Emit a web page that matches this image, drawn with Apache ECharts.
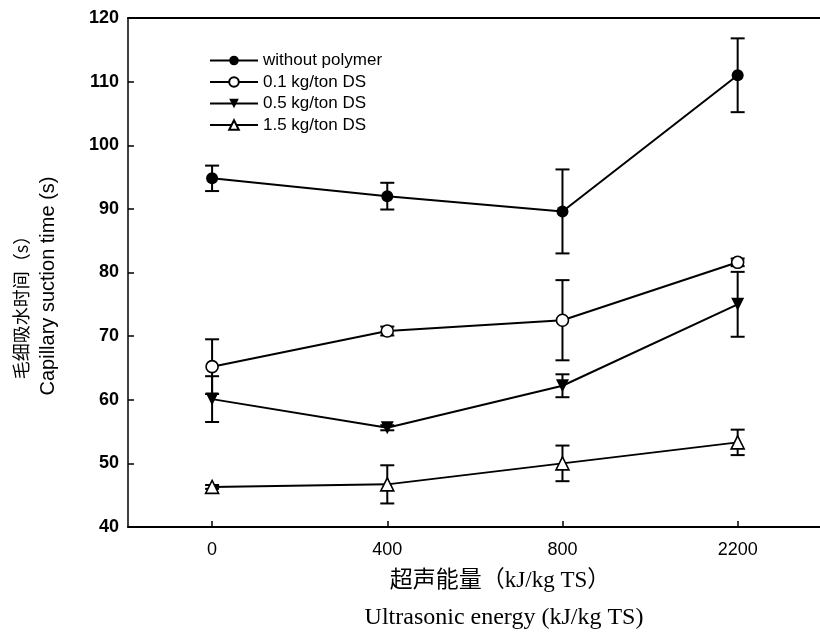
<!DOCTYPE html>
<html>
<head>
<meta charset="utf-8">
<script src="https://cdn.jsdelivr.net/npm/echarts@6/dist/echarts.min.js"></script>
<style>
  html, body { margin: 0; padding: 0; background: #fff; }
  #chart { width: 820px; height: 632px; }
</style>
</head>
<body>
<div id="chart"></div>
<script>
// Ultrasonic energy levels (kJ/kg TS), plotted at equal spacing
const energyLabels = ['0', '400', '800', '2200'];

// Capillary suction time (s), mean and +/- error
const noPolymer    = [94.8, 92.0, 89.6, 111.0];
const noPolymerErr = [2.0, 2.1, 6.6, 5.8];
const dose01       = [65.2, 70.8, 72.5, 81.6];
const dose01Err    = [4.3, 0.7, 6.3, 0.6];
const dose05       = [60.1, 55.6, 62.2, 75.0];
const dose05Err    = [3.6, 0.4, 1.8, 5.1];
const dose15       = [46.3, 46.7, 50.0, 53.3];
const dose15Err    = [0.3, 3.0, 2.8, 2.0];

const seriesNames = ['without polymer', '0.1 kg/ton DS', '0.5 kg/ton DS', '1.5 kg/ton DS'];
const yTicks = [40, 50, 60, 70, 80, 90, 100, 110, 120];

const TRI_DOWN = 'path://M0,0L10,0L5,9Z';
const TRI_UP = 'path://M5,0L10,9L0,9Z';

function pts(vals) { return vals.map((v, i) => [i, v]); }
function errData(vals, errs) { return vals.map((v, i) => [i, v - errs[i], v + errs[i]]); }

// Vertical error bar with caps at both ends
function errorSeries(vals, errs) {
  return {
    type: 'custom',
    z: 1,
    silent: true,
    data: errData(vals, errs),
    renderItem: function (params, api) {
      const x = api.value(0);
      const lo = api.coord([x, api.value(1)]);
      const hi = api.coord([x, api.value(2)]);
      const hw = 7;
      const st = { stroke: '#000', lineWidth: 2 };
      return {
        type: 'group',
        children: [
          { type: 'line', shape: { x1: lo[0], y1: lo[1], x2: hi[0], y2: hi[1] }, style: st },
          { type: 'line', shape: { x1: hi[0] - hw, y1: hi[1], x2: hi[0] + hw, y2: hi[1] }, style: st },
          { type: 'line', shape: { x1: lo[0] - hw, y1: lo[1], x2: lo[0] + hw, y2: lo[1] }, style: st }
        ]
      };
    }
  };
}

function lineSeries(name, vals, symbol, size, filled) {
  return {
    name: name,
    type: 'line',
    z: 3,
    data: pts(vals),
    symbol: symbol,
    symbolSize: size,
    showAllSymbol: true,
    lineStyle: { color: '#000', width: 2 },
    itemStyle: {
      color: filled ? '#000' : '#fff',
      borderColor: '#000',
      borderWidth: filled ? 0 : 1.6
    },
    emphasis: { disabled: true },
    animation: false
  };
}

const X_MIN = -0.48, X_MAX = 3.47;

const chart = echarts.init(document.getElementById('chart'), null, { renderer: 'canvas' });

chart.setOption({
  backgroundColor: '#fff',
  animation: false,
  grid: { left: 128, top: 18, right: 0, bottom: 105, containLabel: false },
  legend: {
    data: seriesNames,
    orient: 'vertical',
    left: 204,
    top: 47,
    itemWidth: 48,
    itemHeight: 12,
    itemGap: 4.5,
    textStyle: { fontFamily: 'Liberation Sans', fontSize: 17, color: '#000' },
    selectedMode: false
  },
  xAxis: [{
    type: 'value',
    min: X_MIN,
    max: X_MAX,
    splitLine: { show: false },
    axisLine: { show: true, onZero: false, lineStyle: { color: '#000', width: 2 } },
    axisTick: { show: true, inside: true, length: 6, customValues: [0, 1, 2, 3], lineStyle: { color: '#000', width: 1.5 } },
    axisLabel: {
      customValues: [0, 1, 2, 3],
      formatter: v => energyLabels[Math.round(v)],
      margin: 14,
      fontFamily: 'Liberation Sans',
      fontSize: 18,
      color: '#000'
    }
  }, {
    type: 'value',
    position: 'top',
    min: X_MIN,
    max: X_MAX,
    splitLine: { show: false },
    axisLine: { show: true, onZero: false, lineStyle: { color: '#000', width: 2 } },
    axisTick: { show: false },
    axisLabel: { show: false }
  }],
  yAxis: {
    type: 'value',
    min: 40,
    max: 120,
    interval: 10,
    splitLine: { show: false },
    axisLine: { show: true, onZero: false, lineStyle: { color: '#000', width: 1.5 } },
    axisTick: { show: true, inside: true, length: 6, lineStyle: { color: '#000', width: 1.5 } },
    axisLabel: {
      formatter: v => (yTicks.indexOf(v) >= 0 ? String(v) : ''),
      margin: 9,
      fontFamily: 'Liberation Sans',
      fontWeight: 'bold',
      fontSize: 18,
      color: '#000'
    }
  },
  graphic: [
    {
      type: 'text', x: 21, y: 303, rotation: Math.PI / 2,
      style: { text: '毛细吸水时间（s）', font: '18px "Noto Sans CJK SC"', fill: '#000', align: 'center', verticalAlign: 'middle' }
    },
    {
      type: 'text', x: 48, y: 286, rotation: Math.PI / 2,
      style: { text: 'Capillary suction time (s)', font: '20px "Liberation Sans"', fill: '#000', align: 'center', verticalAlign: 'middle' }
    },
    {
      type: 'text', x: 500, y: 581,
      style: { text: '超声能量（kJ/kg TS）', font: '23px "Liberation Serif", "Noto Sans CJK SC"', fill: '#000', align: 'center', verticalAlign: 'middle' }
    },
    {
      type: 'text', x: 504, y: 618,
      style: { text: 'Ultrasonic energy (kJ/kg TS)', font: '24px "Liberation Serif"', fill: '#000', align: 'center', verticalAlign: 'middle' }
    }
  ],
  series: [
    errorSeries(noPolymer, noPolymerErr),
    errorSeries(dose01, dose01Err),
    errorSeries(dose05, dose05Err),
    errorSeries(dose15, dose15Err),
    lineSeries(seriesNames[0], noPolymer, 'circle', 12, true),
    lineSeries(seriesNames[1], dose01, 'circle', 12, false),
    lineSeries(seriesNames[2], dose05, TRI_DOWN, 13, true),
    lineSeries(seriesNames[3], dose15, TRI_UP, 13, false)
  ]
});
</script>
</body>
</html>
